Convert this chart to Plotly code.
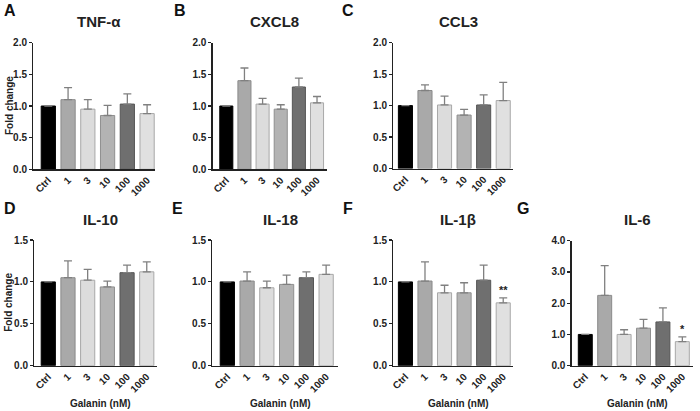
import plotly.graph_objects as go

W, H = 700, 411

categories = ["Ctrl", "1", "3", "10", "100", "1000"]
bar_colors = ["#000000", "#a9a9a9", "#dcdcdc", "#b3b3b3", "#6f6f6f", "#e0e0e0"]
line_colors = ["#000000", "#8a8a8a", "#a8a8a8", "#8f8f8f", "#555555", "#a8a8a8"]

titles = ["TNF-α", "CXCL8", "CCL3", "IL-10", "IL-18", "IL-1β", "IL-6"]
letters = ["A", "B", "C", "D", "E", "F", "G"]

tnf_mean = [1.0, 1.10, 0.95, 0.85, 1.03, 0.88]
tnf_err = [0.0, 0.19, 0.15, 0.16, 0.16, 0.14]
cxcl8_mean = [1.0, 1.40, 1.03, 0.95, 1.30, 1.05]
cxcl8_err = [0.0, 0.20, 0.09, 0.07, 0.14, 0.10]
ccl3_mean = [1.0, 1.24, 1.01, 0.85, 1.01, 1.08]
ccl3_err = [0.0, 0.09, 0.14, 0.09, 0.16, 0.29]
il10_mean = [1.0, 1.05, 1.02, 0.94, 1.11, 1.12]
il10_err = [0.0, 0.20, 0.13, 0.07, 0.09, 0.12]
il18_mean = [1.0, 1.01, 0.93, 0.97, 1.05, 1.09]
il18_err = [0.0, 0.11, 0.08, 0.11, 0.07, 0.11]
il1b_mean = [1.0, 1.01, 0.87, 0.87, 1.02, 0.75]
il1b_err = [0.0, 0.23, 0.09, 0.12, 0.18, 0.06]
il6_mean = [1.0, 2.25, 1.0, 1.2, 1.4, 0.77]
il6_err = [0.0, 0.95, 0.15, 0.28, 0.45, 0.15]

means = [tnf_mean, cxcl8_mean, ccl3_mean, il10_mean, il18_mean, il1b_mean, il6_mean]
errs = [tnf_err, cxcl8_err, ccl3_err, il10_err, il18_err, il1b_err, il6_err]

y_max = [2.0, 2.0, 2.0, 1.5, 1.5, 1.5, 4.0]
y_dtick = [0.5, 0.5, 0.5, 0.5, 0.5, 0.5, 1.0]
signif = [None, None, None, None, None, "**", "*"]

# pixel geometry: (axis_left, axis_right, y_top, y_bottom, x_range_lo, x_range_hi)
geo = [
    (33.3, 155, 42.7, 169.3, -0.76, 5.4),
    (212.7, 327, 42.7, 169.3, -0.75, 5.55),
    (393.3, 513, 42.7, 168.5, -0.62, 5.5),
    (34.3, 157, 240, 365.7, -0.71, 5.52),
    (212.3, 338, 240, 365.7, -0.76, 5.6),
    (393.3, 513, 240, 365.7, -0.62, 5.5),
    (571.7, 693, 240.7, 365.7, -0.7, 5.55),
]


def px(x):
    return x / W


def py(y):
    return 1 - y / H


FONT = "Liberation Sans, Arial, sans-serif"
TXT = "#222222"

fig = go.Figure()
layout = dict(
    width=W, height=H,
    margin=dict(l=0, r=0, t=0, b=0, autoexpand=False),
    paper_bgcolor="white", plot_bgcolor="white",
    showlegend=False,
    font=dict(family=FONT, color=TXT),
)
annotations = []

for i in range(7):
    xl, xr, yt, yb, r0, r1 = geo[i]
    xa = "x" if i == 0 else f"x{i+1}"
    ya = "y" if i == 0 else f"y{i+1}"
    fig.add_trace(go.Bar(
        x=list(range(6)), y=means[i],
        xaxis=xa, yaxis=ya,
        width=0.72,
        marker=dict(color=bar_colors, line=dict(color=line_colors, width=1)),
        error_y=dict(type="data", symmetric=False, array=errs[i],
                     arrayminus=[0] * 6, color="#808080", thickness=1.3, width=4),
        hoverinfo="skip",
    ))
    xkey = "xaxis" if i == 0 else f"xaxis{i+1}"
    ykey = "yaxis" if i == 0 else f"yaxis{i+1}"
    layout[xkey] = dict(
        domain=[px(xl), px(xr)], anchor=ya, range=[r0, r1], automargin=False,
        tickmode="array", tickvals=list(range(6)), ticktext=categories,
        tickangle=-45, showline=True, linecolor=TXT, linewidth=1.3,
        ticks="", showgrid=False, zeroline=False, fixedrange=True,
        tickfont=dict(family=FONT, size=10, color=TXT, weight="bold"),
    )
    layout[ykey] = dict(
        domain=[py(yb), py(yt)], anchor=xa, range=[0, y_max[i]],
        dtick=y_dtick[i], tick0=0, tickformat=".1f", automargin=False,
        showline=True, linecolor=TXT, linewidth=1.3,
        ticks="outside", ticklen=3, tickwidth=1.2, tickcolor=TXT,
        showgrid=False, zeroline=False, fixedrange=True,
        tickfont=dict(family=FONT, size=10, color=TXT, weight="bold"),
    )
    # panel title
    annotations.append(dict(
        text=f"<b>{titles[i]}</b>", xref="paper", yref="paper",
        x=px((xl + xr) / 2 + 5), y=py(yt - 21),
        showarrow=False, xanchor="center", yanchor="middle",
        font=dict(family=FONT, size=15, color=TXT),
    ))
    # panel letter
    lx = {0: 2, 1: 172, 2: 340, 3: 2, 4: 170, 5: 341, 6: 515}[i]
    ly = 11 if i < 3 else 208
    annotations.append(dict(
        text=f"<b>{letters[i]}</b>", xref="paper", yref="paper",
        x=px(lx), y=py(ly), showarrow=False, xanchor="left", yanchor="middle",
        font=dict(family=FONT, size=16, color="#111111"),
    ))
    if i in (0, 3):
        annotations.append(dict(
            text="<b>Fold change</b>", xref="paper", yref="paper",
            x=px(9), y=py((yt + yb) / 2), textangle=-90,
            showarrow=False, xanchor="center", yanchor="middle",
            font=dict(family=FONT, size=10, color=TXT),
        ))
    if i >= 3:
        annotations.append(dict(
            text="<b>Galanin (nM)</b>", xref="paper", yref="paper",
            x=px((xl + xr) / 2 + 5), y=py(403),
            showarrow=False, xanchor="center", yanchor="middle",
            font=dict(family=FONT, size=10, color=TXT),
        ))
    if signif[i]:
        annotations.append(dict(
            text=f"<b>{signif[i]}</b>", xref=xa, yref=ya,
            x=5, y=means[i][5] + errs[i][5], yshift=0,
            showarrow=False, xanchor="center", yanchor="bottom",
            font=dict(family=FONT, size=11, color=TXT),
        ))

layout["annotations"] = annotations
fig.update_layout(**layout)
fig.write_html(
    "out.html",
    config={"displayModeBar": False, "staticPlot": True},
    post_script="document.body.style.margin='0';document.body.style.overflow='hidden';",
)
